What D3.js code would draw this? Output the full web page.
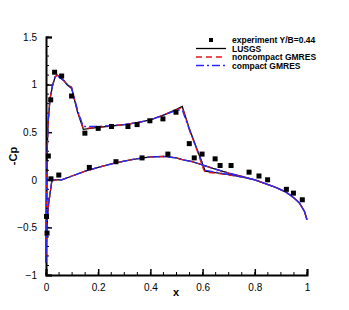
<!DOCTYPE html>
<html>
<head>
<meta charset="utf-8">
<script src="https://cdn.jsdelivr.net/npm/d3@7"></script>
<style>
body { margin: 0; background: #fff; }
text { font-family: "Liberation Sans", Arial, sans-serif; }
</style>
</head>
<body>
<div id="chart"></div>
<script>
var width = 349,
    height = 310;

// experiment Y/B=0.44
var expX = [0.002, 0.004, 0.009, 0.018, 0.019, 0.033, 0.049, 0.060, 0.098, 0.149, 0.166,
            0.200, 0.251, 0.268, 0.314, 0.349, 0.368, 0.398, 0.448, 0.467, 0.498, 0.549,
            0.568, 0.598, 0.648, 0.667, 0.709, 0.778, 0.816, 0.849, 0.921, 0.948, 0.982];
var expCp = [-0.385, -0.56, 0.25, 0.84, 0.01, 1.13, 0.05, 1.09, 0.88, 0.49, 0.13,
             0.54, 0.56, 0.19, 0.56, 0.58, 0.23, 0.62, 0.64, 0.27, 0.71, 0.38,
             0.23, 0.27, 0.22, 0.15, 0.15, 0.08, 0.04, 0.0, -0.10, -0.14, -0.21];

// surface path: upper trailing edge -> leading edge -> lower trailing edge
var surfX = [1.0, 0.99, 0.97, 0.95, 0.92, 0.88, 0.84, 0.80, 0.75, 0.70, 0.65, 0.61, 0.603,
             0.58, 0.55, 0.522, 0.50, 0.45, 0.40, 0.35, 0.30, 0.25, 0.20, 0.143, 0.12,
             0.098, 0.08, 0.069, 0.043, 0.035, 0.025, 0.015, 0.008, 0.004, 0.002, 0.0,
             0.003, 0.01, 0.023, 0.06, 0.10, 0.15, 0.207, 0.27, 0.334, 0.40, 0.45, 0.50,
             0.526, 0.56, 0.596, 0.64, 0.70, 0.75, 0.80, 0.84, 0.88, 0.92, 0.95, 0.97,
             0.99, 1.0];
var lusgs = [-0.42, -0.33, -0.24, -0.19, -0.13, -0.08, -0.04, 0.0, 0.03, 0.055, 0.075, 0.09, 0.14,
             0.31, 0.53, 0.77, 0.74, 0.68, 0.63, 0.60, 0.58, 0.565, 0.55, 0.53, 0.72,
             0.96, 1.0, 1.04, 1.10, 1.08, 0.99, 0.84, 0.6, 0.25, -0.2, -0.87,
             -0.5, -0.25, 0.0, 0.0, 0.04, 0.09, 0.135, 0.18, 0.215, 0.24, 0.245, 0.23,
             0.21, 0.19, 0.16, 0.12, 0.07, 0.035, 0.0, -0.04, -0.08, -0.13, -0.19, -0.24,
             -0.33, -0.42];
var noncompact = [-0.42, -0.33, -0.24, -0.19, -0.13, -0.08, -0.04, 0.0, 0.03, 0.05, 0.07, 0.08, 0.11,
                  0.30, 0.52, 0.76, 0.735, 0.68, 0.63, 0.60, 0.58, 0.565, 0.55, 0.54, 0.73,
                  0.97, 1.01, 1.04, 1.10, 1.08, 0.99, 0.85, 0.6, 0.25, -0.2, -0.8,
                  -0.5, -0.25, 0.0, 0.0, 0.04, 0.09, 0.135, 0.18, 0.215, 0.24, 0.245, 0.23,
                  0.21, 0.19, 0.16, 0.12, 0.07, 0.035, 0.0, -0.04, -0.08, -0.13, -0.19, -0.24,
                  -0.33, -0.42];
var compact = [-0.42, -0.33, -0.24, -0.19, -0.13, -0.08, -0.04, 0.0, 0.03, 0.055, 0.08, 0.10, 0.15,
               0.31, 0.52, 0.735, 0.73, 0.68, 0.63, 0.60, 0.58, 0.57, 0.56, 0.56, 0.74,
               0.97, 1.01, 1.04, 1.09, 1.08, 0.99, 0.84, 0.6, 0.25, -0.2, -0.87,
               -0.5, -0.25, 0.0, 0.0, 0.04, 0.09, 0.135, 0.18, 0.215, 0.24, 0.245, 0.23,
               0.21, 0.19, 0.16, 0.12, 0.07, 0.035, 0.0, -0.04, -0.08, -0.13, -0.19, -0.24,
               -0.33, -0.42];

var xTicks = [0, 0.2, 0.4, 0.6, 0.8, 1];
var yTicks = [-1, -0.5, 0, 0.5, 1, 1.5];
var legendLabels = ["experiment Y/B=0.44", "LUSGS", "noncompact GMRES", "compact GMRES"];

var x = d3.scaleLinear().domain([0, 1]).range([46, 307]);
var y = d3.scaleLinear().domain([-1, 1.5]).range([275, 37]);

var svg = d3.select("#chart")
    .append("svg")
    .attr("width", width)
    .attr("height", height);

// minor ticks
var xMinor = d3.range(0, 1.0001, 0.05);
var yMinor = d3.range(-1, 1.5001, 0.1);
svg.selectAll(".xminor")
    .data(xMinor)
    .enter().append("line")
    .attr("x1", function(d) { return x(d); })
    .attr("x2", function(d) { return x(d); })
    .attr("y1", 275)
    .attr("y2", 272)
    .style("stroke", "#000")
    .style("stroke-width", "1px");
svg.selectAll(".yminor")
    .data(yMinor)
    .enter().append("line")
    .attr("x1", 46)
    .attr("x2", 49)
    .attr("y1", function(d) { return y(d); })
    .attr("y2", function(d) { return y(d); })
    .style("stroke", "#000")
    .style("stroke-width", "1px");

// axes, ticks pointing inward
var xAxis = svg.append("g")
    .attr("transform", "translate(0,275)")
    .call(d3.axisBottom(x).tickValues(xTicks).tickSize(-6).tickPadding(9)
          .tickFormat(function(d) { return d3.format("")(d); }));
var yAxis = svg.append("g")
    .attr("transform", "translate(46,0)")
    .call(d3.axisLeft(y).tickValues(yTicks).tickSize(-6).tickPadding(9)
          .tickFormat(function(d) { return d3.format("")(d); }));

[xAxis, yAxis].forEach(function(a) {
  a.select(".domain").style("stroke", "#000").style("stroke-width", "2px");
  a.selectAll(".tick line").style("stroke", "#000").style("stroke-width", "1.5px");
  a.selectAll(".tick text")
    .style("font-family", "Liberation Sans, Arial, sans-serif")
    .style("font-size", "10px")
    .style("fill", "#000");
});

// CFD curves
var line = d3.line()
    .x(function(d) { return x(d[0]); })
    .y(function(d) { return y(d[1]); });

function pairs(vals) {
  return surfX.map(function(v, i) { return [v, vals[i]]; });
}

svg.append("path")
    .datum(pairs(lusgs))
    .attr("d", line)
    .style("fill", "none")
    .style("stroke", "#000")
    .style("stroke-width", "1.3px");
svg.append("path")
    .datum(pairs(noncompact))
    .attr("d", line)
    .style("fill", "none")
    .style("stroke", "#e8141a")
    .style("stroke-width", "1.3px")
    .style("stroke-dasharray", "6,4");
svg.append("path")
    .datum(pairs(compact))
    .attr("d", line)
    .style("fill", "none")
    .style("stroke", "#2a2aff")
    .style("stroke-width", "1.3px")
    .style("stroke-dasharray", "8,3,2,3");

// experiment
svg.selectAll(".exp")
    .data(expX)
    .enter().append("rect")
    .attr("x", function(d) { return x(d) - 2.5; })
    .attr("y", function(d, i) { return y(expCp[i]) - 2.5; })
    .attr("width", 5)
    .attr("height", 5)
    .style("fill", "#000");

// axis titles
svg.append("text")
    .attr("x", 176)
    .attr("y", 296)
    .attr("text-anchor", "middle")
    .style("font-size", "11px")
    .style("font-weight", "bold")
    .text("x");
svg.append("text")
    .attr("transform", "translate(17,156) rotate(-90)")
    .attr("text-anchor", "middle")
    .style("font-size", "11px")
    .style("font-weight", "bold")
    .text("-Cp");

// legend
var legendY = [40, 48.5, 57, 65.5];
svg.append("rect")
    .attr("x", 209)
    .attr("y", legendY[0] - 2)
    .attr("width", 4)
    .attr("height", 4)
    .style("fill", "#000");
var legendStyles = [
  null,
  {color: "#000", dash: null},
  {color: "#e8141a", dash: "6,4"},
  {color: "#2a2aff", dash: "8,3,2,3"}
];
svg.selectAll(".legline")
    .data(legendStyles.slice(1))
    .enter().append("line")
    .attr("x1", 196)
    .attr("x2", 226)
    .attr("y1", function(d, i) { return legendY[i + 1]; })
    .attr("y2", function(d, i) { return legendY[i + 1]; })
    .style("stroke", function(d) { return d.color; })
    .style("stroke-width", "1.3px")
    .style("stroke-dasharray", function(d) { return d.dash; });
svg.selectAll(".legtext")
    .data(legendLabels)
    .enter().append("text")
    .attr("x", 232)
    .attr("y", function(d, i) { return legendY[i] + 3; })
    .style("font-size", "8.5px")
    .style("font-weight", "bold")
    .text(function(d) { return d; });
</script>
</body>
</html>
